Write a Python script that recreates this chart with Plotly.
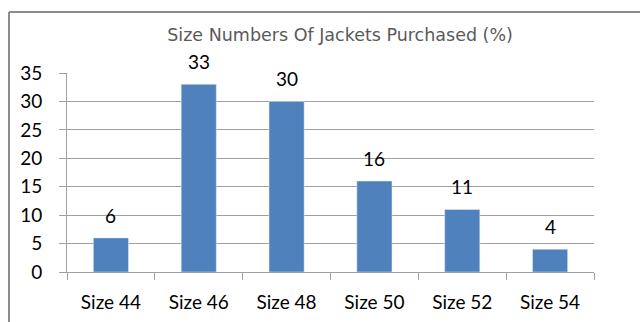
import plotly.graph_objects as go

categories = ["Size 44", "Size 46", "Size 48", "Size 50", "Size 52", "Size 54"]
values = [6, 33, 30, 16, 11, 4]
y_ticks = [0, 5, 10, 15, 20, 25, 30, 35]

W, H = 640, 322
L, R, T, B = 67, 46, 73, 50
pw, ph = W - L - R, H - T - B

def px(x):
    return (x - L) / pw

def py(y):
    return (H - B - y) / ph

fig = go.Figure(go.Bar(
    x=categories, y=values, width=0.4, marker_color="#4f81bd",
    cliponaxis=False,
))

for c, v in zip(categories, values):
    fig.add_annotation(x=c, y=v, text=str(v), showarrow=False, yanchor="bottom", yshift=9,
                       font=dict(family="Lato", size=19, color="#000000"))

fig.update_layout(
    width=W, height=H, margin=dict(l=L, r=R, t=T, b=B),
    paper_bgcolor="white", plot_bgcolor="white", showlegend=False,
    title=dict(text="Size Numbers Of Jackets Purchased (%)", x=px(347), xanchor="center",
               y=1 - 35 / H, yanchor="middle",
               font=dict(family="DejaVu Sans", size=17.5, color="#5a5a5a")),
    xaxis=dict(tickfont=dict(family="Lato", size=19, color="#000000"), showline=True,
               linecolor="#a0a0a0", linewidth=1, ticks="outside", tickson="boundaries",
               ticklen=7, tickcolor="#a0a0a0", showgrid=False, ticklabelstandoff=13,
               automargin=False),
    yaxis=dict(range=[0, 35], tickvals=y_ticks, tickfont=dict(family="Lato", size=19, color="#000000"),
               showline=True, linecolor="#a0a0a0", linewidth=1, ticks="outside", ticklen=7,
               tickcolor="#a0a0a0", showgrid=True, gridcolor="#a0a0a0", gridwidth=1,
               zeroline=False, ticklabelstandoff=13, automargin=False),
    bargap=0.6,
)

fig.add_shape(type="line", xref="paper", yref="paper", x0=px(9), x1=px(645), y0=py(12), y1=py(12),
              line=dict(color="#8c8c8c", width=2))
fig.add_shape(type="line", xref="paper", yref="paper", x0=px(9), x1=px(9), y0=py(12), y1=py(330),
              line=dict(color="#8c8c8c", width=2))

fig.write_html("out.html")
